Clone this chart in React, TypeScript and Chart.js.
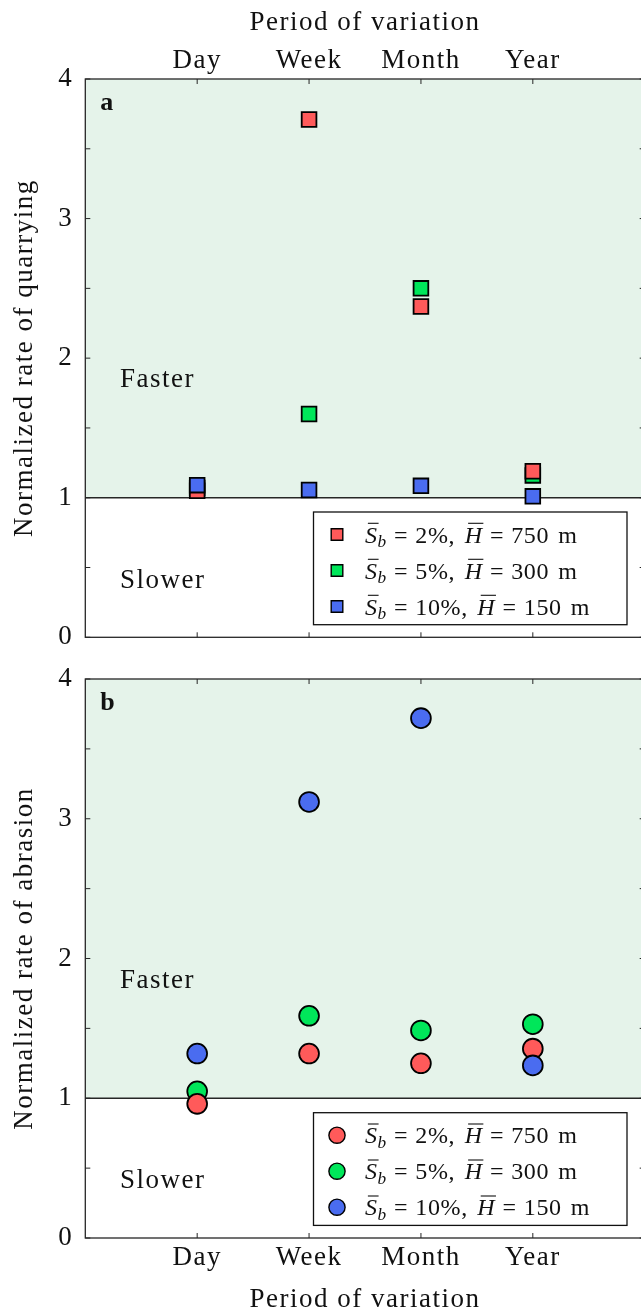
import React, { useEffect, useRef } from 'react';
import { Chart, registerables } from 'chart.js';

Chart.register(...registerables);

// ---------- data ----------
const CATEGORIES = ['Day', 'Week', 'Month', 'Year'];
const Y_TICKS = [0, 1, 2, 3, 4];
const Y_MINOR_STEP = 0.5;
const THRESHOLD = 1;
const SLOPES = ['2%', '5%', '10%'];
const RELIEFS = ['750', '300', '150'];

const QUARRYING_S2 = [1.05, 3.71, 2.37, 1.19];
const QUARRYING_S5 = [1.07, 1.6, 2.5, 1.16];
const QUARRYING_S10 = [1.09, 1.055, 1.085, 1.01];

const ABRASION_S2 = [0.96, 1.32, 1.25, 1.355];
const ABRASION_S5 = [1.05, 1.59, 1.485, 1.53];
const ABRASION_S10 = [1.32, 3.12, 3.72, 1.235];

// ---------- style ----------
const COLORS = ['#ff5a5a', '#00e65a', '#4a6cf0'];
const DRAW_ORDER = [1, 2, 0];
const SHADE = '#e5f3ea';
const AXIS = '#262626';
const TEXT = '#111111';
const FONT = '"Liberation Serif", "Times New Roman", serif';
const FS = 27;
const SPACING = '1.5px';

const CANVAS_W = 662;
const AREA_LEFT = 85.3;
const AREA_RIGHT = 644.7;

type Spec = {
  letter: string;
  yTitle: string;
  series: number[][];
  pointStyle: 'rect' | 'circle';
  pointRadius: number;
  xPosition: 'top' | 'bottom';
  canvasTop: number;
  canvasH: number;
  areaTop: number;
  areaBottom: number;
};

const SPECS: Spec[] = [
  {
    letter: 'a',
    yTitle: 'Normalized rate of quarrying',
    series: [QUARRYING_S2, QUARRYING_S5, QUARRYING_S10],
    pointStyle: 'rect',
    pointRadius: 10.4,
    xPosition: 'top',
    canvasTop: 0,
    canvasH: 650,
    areaTop: 79,
    areaBottom: 637.3,
  },
  {
    letter: 'b',
    yTitle: 'Normalized rate of abrasion',
    series: [ABRASION_S2, ABRASION_S5, ABRASION_S10],
    pointStyle: 'circle',
    pointRadius: 9.9,
    xPosition: 'bottom',
    canvasTop: 650,
    canvasH: 660,
    areaTop: 29,
    areaBottom: 588,
  },
];

function drawMathLabel(ctx: CanvasRenderingContext2D, x: number, baseline: number, slope: string, relief: string, fs: number) {
  const roman = `${fs}px ${FONT}`;
  const italic = `italic ${fs}px ${FONT}`;
  const sub = `italic ${fs * 0.72}px ${FONT}`;
  ctx.letterSpacing = '0.6px';
  ctx.textAlign = 'left';
  ctx.textBaseline = 'alphabetic';
  ctx.fillStyle = TEXT;
  ctx.strokeStyle = TEXT;
  ctx.lineWidth = 1.1;
  let cx = x;
  const bar = (x0: number, w: number) => {
    ctx.beginPath();
    ctx.moveTo(x0, baseline - fs * 0.8);
    ctx.lineTo(x0 + w, baseline - fs * 0.8);
    ctx.stroke();
  };
  ctx.font = italic;
  const wS = ctx.measureText('S').width;
  ctx.fillText('S', cx, baseline);
  bar(cx + fs * 0.12, wS * 0.85);
  cx += wS;
  ctx.font = sub;
  ctx.fillText('b', cx, baseline + fs * 0.2);
  cx += ctx.measureText('b').width;
  cx += fs * 0.3;
  ctx.font = roman;
  ctx.fillText('=', cx, baseline);
  cx += ctx.measureText('=').width + fs * 0.3;
  const t1 = `${slope},`;
  ctx.fillText(t1, cx, baseline);
  cx += ctx.measureText(t1).width + fs * 0.4;
  ctx.font = italic;
  const wH = ctx.measureText('H').width;
  ctx.fillText('H', cx, baseline);
  bar(cx + fs * 0.14, wH * 0.85);
  cx += wH + fs * 0.3;
  ctx.font = roman;
  ctx.fillText('=', cx, baseline);
  cx += ctx.measureText('=').width + fs * 0.3;
  ctx.fillText(relief, cx, baseline);
  cx += ctx.measureText(relief).width + fs * 0.38;
  ctx.fillText('m', cx, baseline);
}

function makePlugin(spec: Spec) {
  return {
    id: 'panelDecor',
    beforeDraw(chart: any) {
      chart.ctx.letterSpacing = SPACING;
    },
    beforeDatasetsDraw(chart: any) {
      const { ctx, chartArea: a, scales } = chart;
      const xs = scales.x;
      const ys = scales.y;
      const yT = ys.getPixelForValue(THRESHOLD);
      ctx.save();
      ctx.fillStyle = SHADE;
      ctx.fillRect(a.left, a.top, a.right - a.left, yT - a.top);
      ctx.strokeStyle = AXIS;
      ctx.lineWidth = 1.3;
      ctx.beginPath();
      ctx.moveTo(a.left, yT);
      ctx.lineTo(a.right, yT);
      ctx.stroke();
      ctx.letterSpacing = SPACING;
      ctx.font = `${FS}px ${FONT}`;
      ctx.fillStyle = TEXT;
      ctx.textAlign = 'left';
      ctx.textBaseline = 'alphabetic';
      ctx.fillText('Faster', xs.getPixelForValue(0.31), ys.getPixelForValue(1.79));
      ctx.fillText('Slower', xs.getPixelForValue(0.31), ys.getPixelForValue(0.355));
      ctx.restore();
    },
    afterDatasetsDraw(chart: any) {
      const { ctx, chartArea: a, scales } = chart;
      const xs = scales.x;
      const ys = scales.y;
      ctx.save();
      ctx.strokeStyle = AXIS;
      ctx.lineWidth = 1.3;
      ctx.strokeRect(a.left, a.top, a.right - a.left, a.bottom - a.top);
      const TL = 5;
      ctx.lineWidth = 1;
      ctx.beginPath();
      CATEGORIES.forEach((_, i) => {
        const px = xs.getPixelForValue(i + 1);
        ctx.moveTo(px, a.top);
        ctx.lineTo(px, a.top + TL);
        ctx.moveTo(px, a.bottom);
        ctx.lineTo(px, a.bottom - TL);
      });
      const y0 = Y_TICKS[0];
      const y1 = Y_TICKS[Y_TICKS.length - 1];
      for (let v = y0; v <= y1 + 1e-9; v += Y_MINOR_STEP) {
        const py = ys.getPixelForValue(v);
        ctx.moveTo(a.left, py);
        ctx.lineTo(a.left + TL, py);
        ctx.moveTo(a.right, py);
        ctx.lineTo(a.right - TL, py);
      }
      ctx.stroke();

      ctx.letterSpacing = '0px';
      ctx.fillStyle = TEXT;
      ctx.font = `bold 26px ${FONT}`;
      ctx.textAlign = 'left';
      ctx.textBaseline = 'alphabetic';
      ctx.fillText(spec.letter, a.left + 15, a.top + 31);

      ctx.letterSpacing = SPACING;
      ctx.font = `${FS}px ${FONT}`;
      ctx.textAlign = 'center';
      const cxArea = (a.left + a.right) / 2;
      const titleBase = spec.xPosition === 'top' ? 29.5 : spec.canvasH - 3.5;
      ctx.fillText('Period of variation', cxArea, titleBase);
      ctx.save();
      ctx.translate(32, (a.top + a.bottom) / 2);
      ctx.rotate(-Math.PI / 2);
      ctx.fillText(spec.yTitle, 0, 0);
      ctx.restore();

      const bw = 313.5;
      const bh = 112.7;
      const bx = a.right - 17.7 - bw;
      const by = a.bottom - 12.6 - bh;
      ctx.fillStyle = '#ffffff';
      ctx.fillRect(bx, by, bw, bh);
      ctx.strokeStyle = '#111';
      ctx.lineWidth = 1.3;
      ctx.strokeRect(bx, by, bw, bh);
      spec.series.forEach((_, i) => {
        const ry = by + 22.5 + i * 36;
        const mx = bx + 23.5;
        ctx.fillStyle = COLORS[i];
        ctx.strokeStyle = '#000';
        ctx.lineWidth = 1.4;
        ctx.beginPath();
        if (spec.pointStyle === 'rect') {
          ctx.rect(mx - 5.8, ry - 5.8, 11.6, 11.6);
        } else {
          ctx.arc(mx, ry, 8.1, 0, Math.PI * 2);
        }
        ctx.fill();
        ctx.stroke();
        drawMathLabel(ctx, bx + 51.5, ry + 8, SLOPES[i], RELIEFS[i], 24);
      });
      ctx.restore();
    },
  };
}

function makeChart(canvas: HTMLCanvasElement, spec: Spec) {
  const font = { family: FONT, size: FS };
  const datasets = spec.series.map((vals, i) => ({
    label: `S_b = ${SLOPES[i]}, H = ${RELIEFS[i]} m`,
    data: vals.map((v, j) => ({ x: j + 1, y: v })),
    backgroundColor: COLORS[i],
    borderColor: '#000',
    borderWidth: 1.8,
    pointStyle: spec.pointStyle,
    pointRadius: spec.pointRadius,
    pointHoverRadius: spec.pointRadius,
    order: DRAW_ORDER[i],
  }));
  const isTop = spec.xPosition === 'top';
  return new Chart(canvas, {
    type: 'scatter',
    data: { datasets },
    options: {
      animation: false,
      responsive: false,
      maintainAspectRatio: false,
      events: [],
      layout: {
        padding: {
          left: 0,
          right: CANVAS_W - AREA_RIGHT,
          top: isTop ? 0 : spec.areaTop,
          bottom: isTop ? spec.canvasH - spec.areaBottom : 0,
        },
      },
      plugins: { legend: { display: false }, tooltip: { enabled: false }, title: { display: false } },
      scales: {
        x: {
          type: 'linear',
          position: spec.xPosition,
          min: 0,
          max: CATEGORIES.length + 1,
          afterBuildTicks: (s: any) => {
            s.ticks = CATEGORIES.map((_, i) => ({ value: i + 1 }));
          },
          ticks: {
            autoSkip: false,
            maxRotation: 0,
            minRotation: 0,
            padding: isTop ? 2 : 3.4,
            font,
            color: TEXT,
            callback: (v: any) => CATEGORIES[Math.round(Number(v)) - 1] ?? '',
          },
          grid: { display: false, drawTicks: false },
          border: { display: false },
          afterFit: (s: any) => {
            s.height = isTop ? spec.areaTop : spec.canvasH - spec.areaBottom;
            s.paddingLeft = 0;
            s.paddingRight = 0;
          },
        },
        y: {
          type: 'linear',
          min: Y_TICKS[0],
          max: Y_TICKS[Y_TICKS.length - 1],
          afterBuildTicks: (s: any) => {
            s.ticks = Y_TICKS.map((v) => ({ value: v }));
          },
          ticks: { padding: 12, font, color: TEXT, callback: (v: any) => String(v) },
          grid: { display: false, drawTicks: false },
          border: { display: false },
          afterFit: (s: any) => {
            s.width = AREA_LEFT;
            s.paddingTop = 0;
            s.paddingBottom = 0;
          },
        },
      },
    } as any,
    plugins: [makePlugin(spec)],
  });
}

function Panel({ spec }: { spec: Spec }) {
  const ref = useRef<HTMLCanvasElement | null>(null);
  useEffect(() => {
    if (!ref.current) return;
    const chart = makeChart(ref.current, spec);
    return () => chart.destroy();
  }, [spec]);
  return (
    <canvas
      ref={ref}
      width={CANVAS_W}
      height={spec.canvasH}
      style={{ position: 'absolute', left: 0, top: spec.canvasTop, width: CANVAS_W, height: spec.canvasH, display: 'block' }}
    />
  );
}

export default function App() {
  return (
    <div style={{ position: 'absolute', left: 0, top: 0, width: 641, height: 1310, overflow: 'hidden', background: '#ffffff' }}>
      {SPECS.map((s) => (
        <Panel key={s.letter} spec={s} />
      ))}
    </div>
  );
}
